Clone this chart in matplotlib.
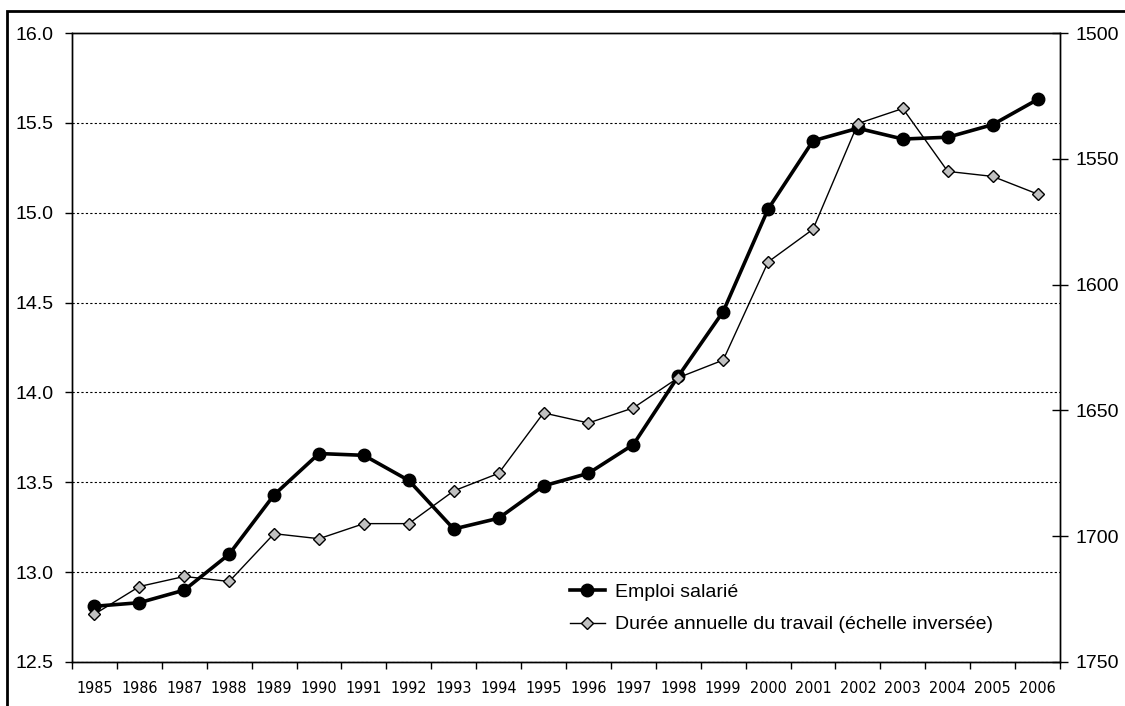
import matplotlib.pyplot as plt
from matplotlib.lines import Line2D
from matplotlib.patches import Rectangle

# data
years = [str(y) for y in range(1985, 2007)]
emploi = [12.81, 12.83, 12.90, 13.10, 13.43, 13.66, 13.65, 13.51, 13.24, 13.30, 13.48,
          13.55, 13.71, 14.09, 14.45, 15.02, 15.40, 15.47, 15.41, 15.42, 15.49, 15.63]
duree = [1731, 1720, 1716, 1718, 1699, 1701, 1695, 1695, 1682, 1675, 1651,
         1655, 1649, 1637, 1630, 1591, 1578, 1536, 1530, 1555, 1557, 1564]
left_ticks = [12.5, 13.0, 13.5, 14.0, 14.5, 15.0, 15.5, 16.0]
right_ticks = [1500, 1550, 1600, 1650, 1700, 1750]

plt.rcParams['font.family'] = ['Liberation Sans', 'DejaVu Sans']

fig = plt.figure(figsize=(11.25, 7.06), dpi=100)
W, H = 1125, 706
ax = fig.add_axes([72 / W, 1 - 662 / H, 988 / W, 629 / H])
ax2 = ax.twinx()

x = list(range(len(years)))

# gridlines
for v in left_ticks[:-1]:
    ax.axhline(v, color='black', lw=0.8, ls=(0, (2, 2)), zorder=0)

ax.plot(x, emploi, color='black', lw=2.6, marker='o', ms=9,
        markerfacecolor='black', markeredgecolor='black', zorder=3)
ax2.plot(x, duree, color='black', lw=1.0, marker='D', ms=6.5,
         markerfacecolor='#c0c0c0', markeredgecolor='black', markeredgewidth=1.0, zorder=3)

ax.set_xlim(-0.5, len(years) - 0.5)
ax.set_ylim(12.5, 16.0)
ax2.set_ylim(1750, 1500)

ax.set_yticks(left_ticks)
ax.set_yticklabels([f'{v:.1f}' for v in left_ticks])
ax2.set_yticks(right_ticks)
ax2.set_yticklabels([str(v) for v in right_ticks])

# category boundaries as ticks, labels centered
ax.set_xticks([i - 0.5 for i in range(len(years) + 1)])
ax.set_xticklabels([])
ax.set_xticks(x, minor=True)
ax.set_xticklabels(years, minor=True, family='DejaVu Sans', fontstretch='condensed', fontsize=11.5)
ax.tick_params(axis='x', which='major', direction='out', length=5, width=1)
ax.tick_params(axis='x', which='minor', length=0, pad=14)
ax.tick_params(axis='y', direction='out', length=5, width=1, labelsize=14, pad=8)
ax2.tick_params(axis='y', direction='inout', length=12, width=1, labelsize=14, pad=5)

for a in (ax, ax2):
    for s in a.spines.values():
        s.set_linewidth(1.0)
        s.set_color('black')

handles = [
    Line2D([], [], color='black', lw=2.6, marker='o', ms=9),
    Line2D([], [], color='black', lw=1.0, marker='D', ms=6.5,
           markerfacecolor='#c0c0c0', markeredgecolor='black'),
]
labels = ['Emploi salarié', 'Durée annuelle du travail (échelle inversée)']
ax2.legend(handles, labels, loc='center left', bbox_to_anchor=(0.504, 0.085),
           frameon=False, fontsize=14, handlelength=1.8, handletextpad=0.5,
           labelspacing=0.75, borderpad=0, borderaxespad=0)

# outer frame
fig.patches.append(Rectangle((7 / W, -0.02), 1.05, 1 - 11 / H + 0.02, transform=fig.transFigure,
                             fill=False, edgecolor='black', lw=2))

plt.savefig('out.png', dpi=100)
